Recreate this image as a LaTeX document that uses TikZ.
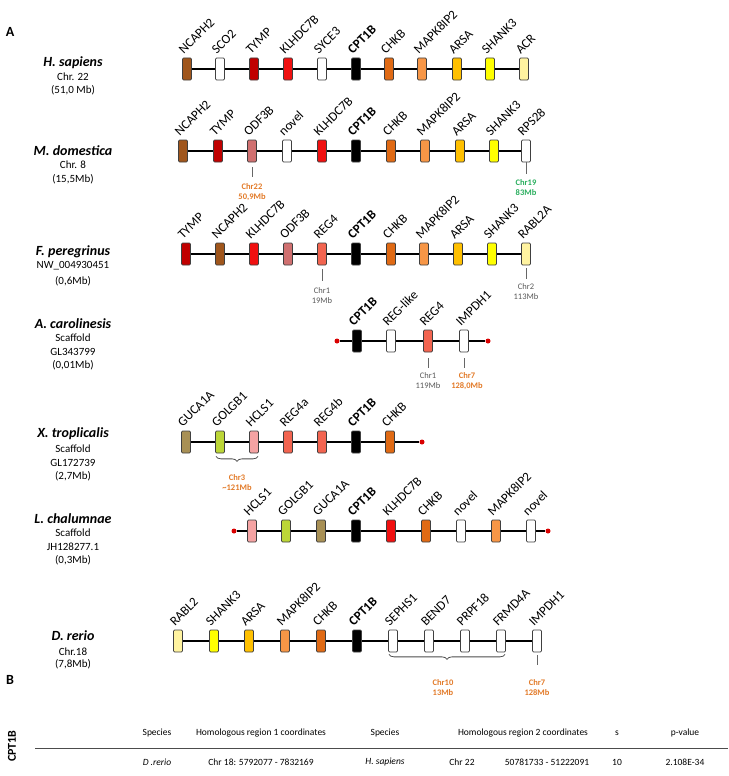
\documentclass[tikz,border=0pt]{standalone}
\usepackage{fontspec}
\setmainfont{Carlito}
\usetikzlibrary{decorations.pathreplacing}
\definecolor{cBrown}{HTML}{A0561C}
\definecolor{cDRed}{HTML}{C00000}
\definecolor{cRed}{HTML}{F01010}
\definecolor{cDOr}{HTML}{E06A14}
\definecolor{cLOr}{HTML}{F79646}
\definecolor{cAmb}{HTML}{FFC000}
\definecolor{cYel}{HTML}{FFFF00}
\definecolor{cPale}{HTML}{FFF3A0}
\definecolor{cRosy}{HTML}{D07070}
\definecolor{cSalm}{HTML}{F26450}
\definecolor{cKhaki}{HTML}{A89055}
\definecolor{cYGr}{HTML}{BCD637}
\definecolor{cPink}{HTML}{F5A3A3}
\definecolor{cLabOr}{HTML}{E27A28}
\definecolor{cLabGr}{HTML}{2AAE5E}
\definecolor{cLabGy}{HTML}{595959}
\tikzset{
  gbox/.style={draw=black!75, line width=0.7pt, rounded corners=1.2pt, minimum width=9pt, minimum height=22pt, inner sep=0pt},
  glabel/.style={rotate=45, anchor=south west, inner sep=0pt, font=\fontsize{13}{13}\selectfont},
  gbold/.style={glabel, font=\bfseries\fontsize{13}{13}\selectfont},
  chr/.style={line width=1.8pt},
  enddot/.style={circle, fill=red!85!black, minimum size=5pt, inner sep=0pt},
  tickline/.style={draw=black!60, line width=0.8pt},
  sublab/.style={font=\bfseries\fontsize{8.5}{10}\selectfont, align=center},
  spname/.style={font=\bfseries\itshape\fontsize{14}{14}\selectfont, inner sep=0pt},
  spinfo/.style={font=\fontsize{11}{11}\selectfont, inner sep=0pt},
  panel/.style={font=\bfseries\fontsize{14}{14}\selectfont, inner sep=0pt},
  thead/.style={font=\fontsize{9.5}{10}\selectfont, inner sep=0pt},
  tcell/.style={font=\fontsize{9.5}{10}\selectfont, inner sep=0pt},
  brace/.style={decorate, decoration={brace, mirror, amplitude=5pt}, draw=black!70, line width=0.8pt},
}
\begin{document}
\begin{tikzpicture}[x=1pt,y=-1pt]
\useasboundingbox (0,0) rectangle (728,776);
\node[panel] (pA) at (10,32) {A};
\node[panel] (pB) at (10,680) {B};

% ---------- H. sapiens
\node[spname] (s1a) at (73,63) {H. sapiens};
\node[spinfo] (s1b) at (73,77) {Chr. 22};
\node[spinfo] (s1c) at (73,90) {(51,0 Mb)};
\foreach \gx/\gc/\gn in {187/cBrown/h1, 220/white/h2, 254/cDRed/h3, 288/cRed/h4, 322/white/h5, 356/black/h6, 389/cDOr/h7, 422/cLOr/h8, 457/cAmb/h9, 490/cYel/h10, 524/cPale/h11}
  \node[gbox, fill=\gc] (\gn) at (\gx,69) {};
\draw[chr] (h1) -- (h2) -- (h3) -- (h4) -- (h5) -- (h6) -- (h7) -- (h8) -- (h9) -- (h10) -- (h11);
\node[glabel] (h1l) at (184,55) {NCAPH2};
\node[glabel] (h2l) at (217,55) {SCO2};
\node[glabel] (h3l) at (251,55) {TYMP};
\node[glabel] (h4l) at (285,55) {KLHDC7B};
\node[glabel] (h5l) at (319,55) {SYCE3};
\node[gbold] (h6l) at (353,55) {CPT1B};
\node[glabel] (h7l) at (386,55) {CHKB};
\node[glabel] (h8l) at (419,55) {MAPK8IP2};
\node[glabel] (h9l) at (454,55) {ARSA};
\node[glabel] (h10l) at (487,55) {SHANK3};
\node[glabel] (h11l) at (521,55) {ACR};

% ---------- M. domestica
\node[spname] (s2a) at (73,151) {M. domestica};
\node[spinfo] (s2b) at (73,165) {Chr. 8};
\node[spinfo] (s2c) at (73,179) {(15,5Mb)};
\foreach \gx/\gc/\gn in {183/cBrown/m1, 218/cDRed/m2, 252/cRosy/m3, 287/white/m4, 322/cRed/m5, 356/black/m6, 391/cDOr/m7, 425/cLOr/m8, 460/cAmb/m9, 494/cYel/m10, 526/white/m11}
  \node[gbox, fill=\gc] (\gn) at (\gx,151) {};
\draw[chr] (m1) -- (m2) -- (m3) -- (m4) -- (m5) -- (m6) -- (m7) -- (m8) -- (m9) -- (m10) -- (m11);
\node[glabel] (m1l) at (180,137) {NCAPH2};
\node[glabel] (m2l) at (215,137) {TYMP};
\node[glabel] (m3l) at (249,137) {ODF3B};
\node[glabel] (m4l) at (284,137) {novel};
\node[glabel] (m5l) at (319,137) {KLHDC7B};
\node[gbold] (m6l) at (353,137) {CPT1B};
\node[glabel] (m7l) at (388,137) {CHKB};
\node[glabel] (m8l) at (422,137) {MAPK8IP2};
\node[glabel] (m9l) at (457,137) {ARSA};
\node[glabel] (m10l) at (491,137) {SHANK3};
\node[glabel] (m11l) at (523,137) {RPS28};
\draw[tickline] ([yshift=-5pt]m3.south) -- ([yshift=-15pt]m3.south);
\node[sublab, text=cLabOr] (m3c) at (252,192) {Chr22\\50,9Mb};
\draw[tickline] (m11.south) -- ([yshift=-12pt]m11.south);
\node[sublab, text=cLabGr] (m11c) at (526,188) {Chr19\\83Mb};

% ---------- F. peregrinus
\node[spname] (s3a) at (73,252) {F. peregrinus};
\node[spinfo] (s3b) at (73,266) {NW\_004930451};
\node[spinfo] (s3c) at (73,281) {(0,6Mb)};
\foreach \gx/\gc/\gn in {186/cDRed/f1, 220/cBrown/f2, 254/cRed/f3, 288/cRosy/f4, 322/cSalm/f5, 356/black/f6, 391/cDOr/f7, 424/cLOr/f8, 458/cAmb/f9, 492/cYel/f10, 526/cPale/f11}
  \node[gbox, fill=\gc] (\gn) at (\gx,254) {};
\draw[chr] (f1) -- (f2) -- (f3) -- (f4) -- (f5) -- (f6) -- (f7) -- (f8) -- (f9) -- (f10) -- (f11);
\node[glabel] (f1l) at (183,240) {TYMP};
\node[glabel] (f2l) at (217,240) {NCAPH2};
\node[glabel] (f3l) at (251,240) {KLHDC7B};
\node[glabel] (f4l) at (285,240) {ODF3B};
\node[glabel] (f5l) at (319,240) {REG4};
\node[gbold] (f6l) at (353,240) {CPT1B};
\node[glabel] (f7l) at (388,240) {CHKB};
\node[glabel] (f8l) at (421,240) {MAPK8IP2};
\node[glabel] (f9l) at (455,240) {ARSA};
\node[glabel] (f10l) at (489,240) {SHANK3};
\node[glabel] (f11l) at (523,240) {RABL2A};
\draw[tickline] ([yshift=-4pt]f5.south) -- ([yshift=-16pt]f5.south);
\node[sublab, font=\fontsize{8.5}{10}\selectfont, text=cLabGy] (f5c) at (322,296) {Chr1\\19Mb};
\draw[tickline] ([yshift=-3pt]f11.south) -- ([yshift=-14pt]f11.south);
\node[sublab, font=\fontsize{8.5}{10}\selectfont, text=cLabGy] (f11c) at (526,292) {Chr2\\113Mb};

% ---------- A. carolinesis
\node[spname] (s4a) at (73,324) {A. carolinesis};
\node[spinfo] (s4b) at (73,338) {Scaffold};
\node[spinfo] (s4c) at (73,352) {GL343799};
\node[spinfo] (s4d) at (73,365) {(0,01Mb)};
\node[enddot] (a0) at (337,341) {};
\foreach \gx/\gc/\gn in {357/black/a1, 391/white/a2, 428/cSalm/a3, 464/white/a4}
  \node[gbox, fill=\gc] (\gn) at (\gx,341) {};
\node[enddot] (a5) at (488,341) {};
\draw[chr] (a0) -- (a1) -- (a2) -- (a3) -- (a4) -- (a5);
\node[gbold] (a1l) at (354,327) {CPT1B};
\node[glabel] (a2l) at (388,327) {REG-like};
\node[glabel] (a3l) at (425,327) {REG4};
\node[glabel] (a4l) at (461,327) {IMPDH1};
\draw[tickline] ([yshift=-6pt]a3.south) -- ([yshift=-16pt]a3.south);
\node[sublab, font=\fontsize{8.5}{10}\selectfont, text=cLabGy] (a3c) at (428,381) {Chr1\\119Mb};
\draw[tickline] ([yshift=-6pt]a4.south) -- ([yshift=-16pt]a4.south);
\node[sublab, text=cLabOr] (a4c) at (467,381) {Chr7\\128,0Mb};

% ---------- X. troplicalis
\node[spname] (s5a) at (73,434) {X. troplicalis};
\node[spinfo] (s5b) at (73,449) {Scaffold};
\node[spinfo] (s5c) at (73,463) {GL172739};
\node[spinfo] (s5d) at (73,476) {(2,7Mb)};
\foreach \gx/\gc/\gn in {186/cKhaki/x1, 220/cYGr/x2, 254/cPink/x3, 288/cSalm/x4, 322/cSalm/x5, 356/black/x6, 390/cDOr/x7}
  \node[gbox, fill=\gc] (\gn) at (\gx,442) {};
\node[enddot] (x8) at (422,442) {};
\draw[chr] (x1) -- (x2) -- (x3) -- (x4) -- (x5) -- (x6) -- (x7) -- (x8);
\node[glabel] (x1l) at (183,428) {GUCA1A};
\node[glabel] (x2l) at (217,428) {GOLGB1};
\node[glabel] (x3l) at (251,428) {HCLS1};
\node[glabel] (x4l) at (285,428) {REG4a};
\node[glabel] (x5l) at (319,428) {REG4b};
\node[gbold] (x6l) at (353,428) {CPT1B};
\node[glabel] (x7l) at (387,428) {CHKB};
\draw[brace] ([xshift=-4pt,yshift=-3pt]x2.south) -- ([xshift=4pt,yshift=-3pt]x3.south);
\node[sublab, text=cLabOr] (x23c) at (237,483) {Chr3\\\textasciitilde121Mb};

% ---------- L. chalumnae
\node[spname] (s6a) at (73,519) {L. chalumnae};
\node[spinfo] (s6b) at (73,533) {Scaffold};
\node[spinfo] (s6c) at (73,547) {JH128277.1};
\node[spinfo] (s6d) at (73,560) {(0,3Mb)};
\node[enddot] (l0) at (234,531) {};
\foreach \gx/\gc/\gn in {252/cPink/l1, 286/cYGr/l2, 321/cKhaki/l3, 356/black/l4, 391/cRed/l5, 426/cDOr/l6, 461/white/l7, 496/cLOr/l8, 531/white/l9}
  \node[gbox, fill=\gc] (\gn) at (\gx,531) {};
\node[enddot] (l10) at (548,531) {};
\draw[chr] (l0) -- (l1) -- (l2) -- (l3) -- (l4) -- (l5) -- (l6) -- (l7) -- (l8) -- (l9) -- (l10);
\node[glabel] (l1l) at (249,517) {HCLS1};
\node[glabel] (l2l) at (283,517) {GOLGB1};
\node[glabel] (l3l) at (318,517) {GUCA1A};
\node[gbold] (l4l) at (353,517) {CPT1B};
\node[glabel] (l5l) at (388,517) {KLHDC7B};
\node[glabel] (l6l) at (423,517) {CHKB};
\node[glabel] (l7l) at (458,517) {novel};
\node[glabel] (l8l) at (493,517) {MAPK8IP2};
\node[glabel] (l9l) at (528,517) {novel};

% ---------- D. rerio
\node[spname] (s7a) at (73,636) {D. rerio};
\node[spinfo] (s7b) at (73,652) {Chr.18};
\node[spinfo] (s7c) at (73,664) {(7,8Mb)};
\foreach \gx/\gc/\gn in {178/cPale/d1, 214/cYel/d2, 249/cAmb/d3, 285/cLOr/d4, 321/cDOr/d5, 357/black/d6, 393/white/d7, 429/white/d8, 465/white/d9, 501/white/d10, 537/white/d11}
  \node[gbox, fill=\gc] (\gn) at (\gx,641) {};
\draw[chr, line width=1.5pt] (d1) -- (d2) -- (d3) -- (d4) -- (d5) -- (d6) -- (d7) -- (d8) -- (d9) -- (d10) -- (d11);
\node[glabel] (d1l) at (175,627) {RABL2};
\node[glabel] (d2l) at (211,627) {SHANK3};
\node[glabel] (d3l) at (246,627) {ARSA};
\node[glabel] (d4l) at (282,627) {MAPK8IP2};
\node[glabel] (d5l) at (318,627) {CHKB};
\node[gbold] (d6l) at (354,627) {CPT1B};
\node[glabel] (d7l) at (390,627) {SEPHS1};
\node[glabel] (d8l) at (426,627) {BEND7};
\node[glabel] (d9l) at (462,627) {PRPF18};
\node[glabel] (d10l) at (498,627) {FRMD4A};
\node[glabel] (d11l) at (534,627) {IMPDH1};
\draw[brace] ([xshift=-4pt,yshift=-2pt]d7.south) -- ([xshift=4pt,yshift=-2pt]d10.south);
\node[sublab, text=cLabOr] (d710c) at (443,688) {Chr10\\13Mb};
\draw[tickline] ([yshift=-3pt]d11.south) -- ([yshift=-13pt]d11.south);
\node[sublab, text=cLabOr] (d11c) at (537,688) {Chr7\\128Mb};

% ---------- Table
\node[panel, rotate=90, font=\bfseries\fontsize{12}{12}\selectfont] (tc) at (12,746) {CPT1B};
\node[thead] (th1) at (157,733) {Species};
\node[thead] (th2) at (261,733) {Homologous region 1 coordinates};
\node[thead] (th3) at (385,733) {Species};
\node[thead] (th4) at (523,733) {Homologous region 2 coordinates};
\node[thead] (th5) at (617,733) {s};
\node[thead] (th6) at (685,733) {p-value};
\coordinate (tl1) at (35,748);
\coordinate (tl2) at (728,748);
\draw[line width=1pt, black!70] (tl1) -- (tl2);
\node[tcell, font=\itshape\fontsize{9.5}{10}\selectfont] (td1) at (157,762) {D .rerio};
\node[tcell] (td2) at (261,762) {Chr 18: 5792077 - 7832169};
\node[tcell, font=\itshape\fontsize{9.5}{10}\selectfont] (td3) at (385,762) {H. sapiens};
\node[tcell] (td4) at (462,762) {Chr 22};
\node[tcell] (td5) at (547,762) {50781733 - 51222091};
\node[tcell] (td6) at (617,762) {10};
\node[tcell] (td7) at (685,762) {2.108E-34};
\end{tikzpicture}
\end{document}
